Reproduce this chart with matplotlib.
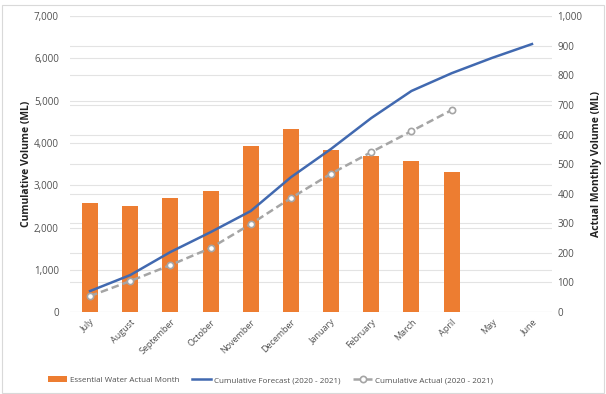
import numpy as np
import matplotlib
matplotlib.use("Agg")
import matplotlib.pyplot as plt
import matplotlib.transforms as mtransforms
from matplotlib.ticker import FuncFormatter

plt.rcParams['font.family'] = ['Open Sans', 'DejaVu Sans']

months = ["July", "August", "September", "October", "November", "December",
          "January", "February", "March", "April", "May", "June"]
monthly_actual = [367, 358, 385, 409, 561, 618, 548, 528, 510, 474]
cum_forecast = [497, 875, 1420, 1890, 2390, 3190, 3860, 4590, 5230, 5650, 6010, 6340]
cum_actual = [378, 733, 1111, 1513, 2081, 2696, 3275, 3784, 4280, 4777]

left_ticks = list(range(0, 7001, 1000))
right_ticks = list(range(0, 1001, 100))

orange = "#ED7D31"
blue = "#4169B0"
grey = "#A5A5A5"
txt = "#505050"
gridc = "#E3E3E3"

fig = plt.figure(figsize=(6.06, 3.94), dpi=100)
ax2 = fig.add_axes([0.1155, 0.208, 0.7955, 0.751])
ax = ax2.twinx()
# left axis (lines) drawn on top, right axis (bars) underneath
ax.yaxis.tick_left()
ax.yaxis.set_label_position("left")
ax2.yaxis.tick_right()
ax2.yaxis.set_label_position("right")
ax.set_zorder(2)
ax.patch.set_visible(False)
ax2.set_zorder(1)

x = np.arange(len(months))

# grid lines for both scales, behind the bars
blend = mtransforms.blended_transform_factory(ax2.transAxes, ax.transData)
for v in left_ticks:
    ax2.plot([0, 1], [v, v], transform=blend, color=gridc, lw=0.8, zorder=0)
for v in right_ticks:
    ax2.axhline(v, color=gridc, lw=0.8, zorder=0)

ax2.bar(x[:len(monthly_actual)], monthly_actual, width=0.4, color=orange, zorder=2,
        label="Essential Water Actual Month")
ax.plot(x, cum_forecast, color=blue, lw=1.8, label="Cumulative Forecast (2020 - 2021)")
ax.plot(x[:len(cum_actual)], cum_actual, color=grey, lw=1.8, ls=(0, (3, 1.6)),
        marker="o", ms=4.5, mfc="white", mec=grey, mew=1.2,
        label="Cumulative Actual (2020 - 2021)")

ax.set_ylim(0, 7000)
ax2.set_ylim(0, 1000)
ax2.set_xlim(-0.5, 11.5)
ax.set_yticks(left_ticks)
ax2.set_yticks(right_ticks)
fmt = FuncFormatter(lambda v, p: f"{int(v):,}")
ax.yaxis.set_major_formatter(fmt)
ax2.yaxis.set_major_formatter(fmt)
ax2.set_xticks(x)
ax2.set_xticklabels(months, rotation=45, ha="right", rotation_mode="anchor",
                    fontsize=6.5, color=txt)

for a in (ax, ax2):
    for s in a.spines.values():
        s.set_visible(False)
    a.tick_params(axis="y", length=0, labelsize=7, labelcolor=txt)
ax.tick_params(axis="y", pad=8)
ax2.tick_params(axis="y", pad=4)
ax2.tick_params(axis="x", length=0, pad=4)

ax.set_ylabel("Cumulative Volume (ML)", fontsize=7.5, fontweight="bold", color="#222222", labelpad=1)
ax2.set_ylabel("Actual Monthly Volume (ML)", fontsize=7.5, fontweight="bold", color="#222222",
               labelpad=6)

h1, l1 = ax2.get_legend_handles_labels()
h2, l2 = ax.get_legend_handles_labels()
fig.legend(h1 + h2, l1 + l2, loc="center", bbox_to_anchor=(0.446, 0.035), ncol=3,
           frameon=False, fontsize=5.8, labelcolor=txt, handlelength=2.4,
           handletextpad=0.3, columnspacing=1.6)

fig.patches.append(plt.Rectangle((0.003, 0.003), 0.994, 0.985, transform=fig.transFigure,
                                 fill=False, edgecolor="#D9D9D9", lw=0.8))

fig.savefig("out.png", dpi=100)
